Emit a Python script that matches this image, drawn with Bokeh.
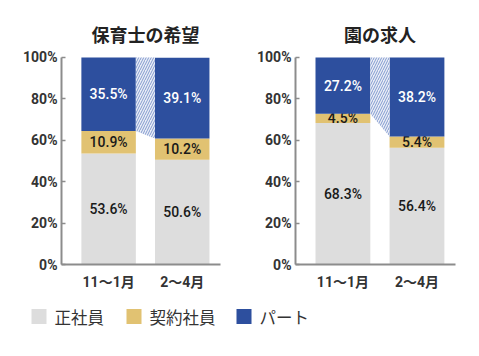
from bokeh.plotting import figure
from bokeh.layouts import column, row
from bokeh.models import FixedTicker, ColumnDataSource
from bokeh.core.properties import value
from bokeh.embed import file_html
from bokeh.resources import INLINE

periods = ["11〜1月", "2〜4月"]
titles = ["保育士の希望", "園の求人"]
series = ["正社員", "契約社員", "パート"]
hoikushi_seishain = [53.6, 50.6]
hoikushi_keiyaku = [10.9, 10.2]
hoikushi_part = [35.5, 39.1]
en_seishain = [68.3, 56.4]
en_keiyaku = [4.5, 5.4]
en_part = [27.2, 38.2]
y_ticks = [0, 20, 40, 60, 80, 100]

colors = ["#dddddd", "#e1c272", "#2d4f9e"]
label_colors = ["#1a1a1a", "#1a1a1a", "#ffffff"]
NUM_FONT = "Roboto, Noto Sans CJK JP"
LABEL_FONT = "Roboto Medium, Roboto"
JP_FONT = "Noto Sans CJK JP"
AXIS_COLOR = "#8c8c8c"


def make_panel(title, seishain, keiyaku, part, width, left, right):
    p = figure(width=width, height=299, output_backend="svg", toolbar_location=None,
               x_range=(0.36, 2.52), y_range=(0, 116.4),
               min_border_left=left, min_border_right=right,
               min_border_top=23, min_border_bottom=35)
    p.outline_line_color = None
    p.grid.grid_line_color = None
    xs = [1, 2]
    bw = 0.74
    stacks = [seishain, keiyaku, part]
    bottom = [0, 0]
    bounds = []
    for vals, c, lc in zip(stacks, colors, label_colors):
        top = [b + v for b, v in zip(bottom, vals)]
        src = ColumnDataSource(dict(x=xs, bottom=bottom, top=top,
                                    mid=[(b + t) / 2 for b, t in zip(bottom, top)],
                                    txt=[f"{v:.1f}%" for v in vals]))
        p.vbar(x="x", bottom="bottom", top="top", width=bw, source=src,
               fill_color=c, line_color=None)
        p.text(x="x", y="mid", text="txt", source=src, text_align="center",
               text_baseline="middle", text_font=value(LABEL_FONT),
               text_font_size="14px", text_color=lc)
        bounds.append(bottom)
        bottom = top
    # hatched connector between the part segments
    part_bottom = bounds[2]
    px = [xs[0] + bw / 2, xs[1] - bw / 2, xs[1] - bw / 2, xs[0] + bw / 2]
    py = [100, 100, part_bottom[1], part_bottom[0]]
    p.patch(px, py, fill_color="#eaeef7", line_color=None,
            hatch_pattern="/", hatch_color="#7690ca", hatch_scale=5, hatch_weight=0.9)

    p.yaxis.ticker = FixedTicker(ticks=y_ticks)
    p.yaxis.bounds = (0, 100)
    p.yaxis.major_label_overrides = {t: f"{t}%" for t in y_ticks}
    p.xaxis.ticker = FixedTicker(ticks=xs)
    p.xaxis.major_label_overrides = {x: lab for x, lab in zip(xs, periods)}
    for ax in (p.xaxis, p.yaxis):
        ax.axis_line_color = AXIS_COLOR
        ax.axis_line_width = 2
        ax.major_label_text_font = NUM_FONT
        ax.major_label_text_font_style = "bold"
        ax.major_label_text_font_size = "14px"
        ax.major_label_text_color = "#333333"
        ax.minor_tick_line_color = None
    p.yaxis.major_tick_in = 4
    p.yaxis.major_tick_out = 0
    p.yaxis.major_tick_line_color = AXIS_COLOR
    p.yaxis.major_tick_line_width = 1.5
    p.yaxis.major_label_standoff = 4
    p.xaxis.major_tick_line_color = None
    p.xaxis.major_label_standoff = 3

    p.text(x=[1.5], y=[100], y_offset=-23, text=[title], text_align="center",
           text_baseline="middle", text_font=value(JP_FONT), text_font_style="bold",
           text_font_size="18px", text_color="#222222")
    return p


p1 = make_panel(titles[0], hoikushi_seishain, hoikushi_keiyaku, hoikushi_part, 238, 61, 18)
p2 = make_panel(titles[1], en_seishain, en_keiyaku, en_part, 231, 57, 14)

leg = figure(width=469, height=42, output_backend="svg", toolbar_location=None,
             x_range=(0, 469), y_range=(0, 42), min_border=0)
leg.axis.visible = False
leg.grid.grid_line_color = None
leg.outline_line_color = None
leg_x = [31, 126, 236]
leg.rect(x=[x + 7.5 for x in leg_x], y=[25] * 3, width=15, height=15,
         fill_color=colors, line_color=None)
leg.text(x=[x + 23 for x in leg_x], y=[25] * 3, text=series, text_baseline="middle",
         text_font=value(JP_FONT), text_font_size="16.5px", text_color="#333333")

layout = column(row(p1, p2), leg)
open("out.html", "w").write(file_html(layout, INLINE))
